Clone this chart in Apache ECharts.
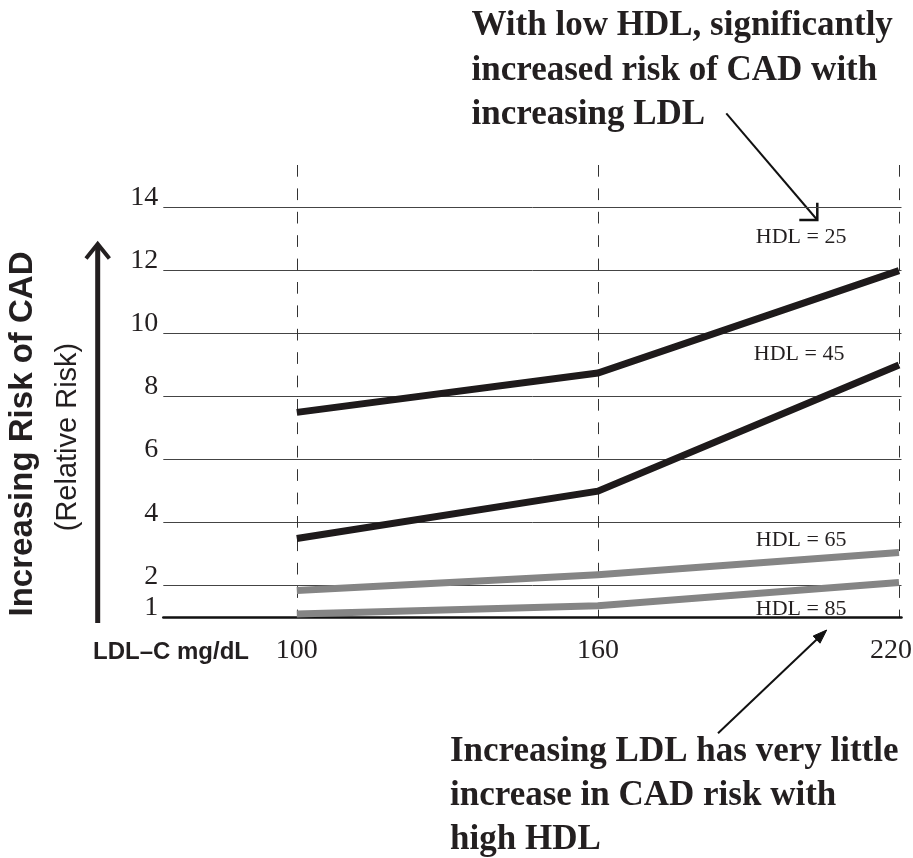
<!DOCTYPE html>
<html>
<head>
<meta charset="utf-8">
<script src="https://cdn.jsdelivr.net/npm/echarts@6/dist/echarts.min.js"></script>
<style>
html,body{margin:0;padding:0;background:#fff;}
#chart{width:913px;height:858px;}
</style>
</head>
<body>
<div id="chart"></div>
<script>
// ---- data ----
const ldl = [100, 160, 220];
const hdlLevels = [25, 45, 65, 85];
const hdl25 = [7.5, 8.75, 12];
const hdl45 = [3.5, 5, 9];
const hdl65 = [1.85, 2.35, 3.05];
const hdl85 = [1.1, 1.36, 2.1];
const yTicks = [1, 2, 4, 6, 8, 10, 12, 14];
const xTicks = [100, 160, 220];
const yTitle = 'Increasing Risk of CAD';
const ySubTitle = '(Relative Risk)';
const xTitle = 'LDL\u2013C mg/dL';
const noteTop = 'With low HDL, significantly\nincreased risk of CAD with\nincreasing LDL';
const noteBottom = 'Increasing LDL has very little\nincrease in CAD risk with\nhigh HDL';

const serif = '"Liberation Serif", "Times New Roman", serif';
const sans = '"Liberation Sans", Arial, sans-serif';
const ink = '#231f20';

function pts(vals) { return ldl.map((x, i) => [x, vals[i]]); }

function labelMark(level, coord) {
  return {
    symbol: 'circle', symbolSize: 0, silent: true,
    label: { show: true, position: 'inside', formatter: 'HDL = ' + level,
      fontFamily: serif, fontSize: 22, color: ink },
    data: [{ coord: coord }]
  };
}

function lineSeries(name, vals, color, level, coord) {
  return {
    name: name, type: 'line', data: pts(vals), showSymbol: false, symbol: 'none',
    silent: true, animation: false,
    lineStyle: { color: color, width: 7, cap: 'butt', join: 'miter' },
    markPoint: labelMark(level, coord)
  };
}

const chart = echarts.init(document.getElementById('chart'), null, { renderer: 'canvas' });
chart.setOption({
  backgroundColor: '#fff',
  animation: false,
  grid: { left: 163.3, right: 11.5, top: 165, bottom: 240.8, outerBoundsMode: 'none', containLabel: false },
  xAxis: {
    type: 'value', min: 73.4, max: 220.5,
    axisLine: { show: true, lineStyle: { color: '#111', width: 2.5 } },
    axisTick: { show: false, customValues: xTicks },
    axisLabel: {
      customValues: xTicks, margin: 19, fontFamily: serif, fontSize: 28, color: ink,
      formatter: v => v === 220 ? '{r|' + v + '}' : '{n|' + v + '}',
      rich: {
        n: { fontFamily: serif, fontSize: 28, color: ink },
        r: { fontFamily: serif, fontSize: 28, color: ink, width: 26, align: 'right' }
      }
    },
    splitLine: { show: true, lineStyle: { color: '#333', width: 1, type: [11.7, 11.7] } }
  },
  yAxis: {
    type: 'value', min: 1, max: 15.35,
    axisLine: { show: false },
    axisTick: { show: false, customValues: yTicks },
    axisLabel: { customValues: yTicks, margin: 5, fontFamily: serif, fontSize: 28, color: ink,
      verticalAlign: 'bottom', lineHeight: 19 },
    splitLine: { show: true, lineStyle: { color: '#444', width: 1 } }
  },
  series: [
    lineSeries('HDL = 25', hdl25, '#1e1a1b', hdlLevels[0], [200.5, 13.07]),
    lineSeries('HDL = 45', hdl45, '#1e1a1b', hdlLevels[1], [200.1, 9.35]),
    lineSeries('HDL = 65', hdl65, '#858585', hdlLevels[2], [200.5, 3.45]),
    lineSeries('HDL = 85', hdl85, '#858585', hdlLevels[3], [200.5, 1.26])
  ],
  graphic: [
    // y-axis title
    { type: 'text', x: 22.5, y: 434, rotation: Math.PI / 2, silent: true,
      style: { text: yTitle, font: 'bold 33px ' + sans, fill: ink, align: 'center', verticalAlign: 'middle' } },
    { type: 'text', x: 67.5, y: 437, rotation: Math.PI / 2, silent: true,
      style: { text: ySubTitle, font: '29px ' + sans, fill: ink, align: 'center', verticalAlign: 'middle' } },
    // y arrow
    { type: 'line', silent: true, shape: { x1: 97.7, y1: 623, x2: 97.7, y2: 245 },
      style: { stroke: ink, lineWidth: 5 } },
    { type: 'polyline', silent: true, shape: { points: [[86, 258.5], [97.7, 244], [109.4, 258.5]] },
      style: { stroke: ink, lineWidth: 4, fill: null, lineJoin: 'miter' } },
    // x title
    { type: 'text', x: 93, y: 652, silent: true,
      style: { text: xTitle, font: 'bold 24px ' + sans, fill: ink, align: 'left', verticalAlign: 'middle' } },
    // notes
    { type: 'text', x: 471.5, y: 3.5, silent: true,
      style: { text: noteTop, font: 'bold 35px ' + serif, fill: ink, align: 'left', verticalAlign: 'top', lineHeight: 44.7 } },
    { type: 'text', x: 450, y: 729.5, silent: true,
      style: { text: noteBottom, font: 'bold 35px ' + serif, fill: ink, align: 'left', verticalAlign: 'top', lineHeight: 44.3 } },
    // top arrow
    { type: 'line', silent: true, shape: { x1: 726.3, y1: 113.3, x2: 817.3, y2: 220 },
      style: { stroke: '#111', lineWidth: 2 } },
    { type: 'polyline', silent: true, shape: { points: [[799.3, 220], [817.3, 220], [817.3, 202.7]] },
      style: { stroke: '#111', lineWidth: 2.5, fill: null, lineJoin: 'miter' } },
    // bottom arrow
    { type: 'line', silent: true, shape: { x1: 718, y1: 733.3, x2: 818, y2: 638.3 },
      style: { stroke: '#111', lineWidth: 2 } },
    { type: 'polygon', silent: true, shape: { points: [[826.7, 630], [820, 643.2], [813.2, 636]] },
      style: { fill: '#111', stroke: '#111', lineWidth: 1 } }
  ]
});
</script>
</body>
</html>
